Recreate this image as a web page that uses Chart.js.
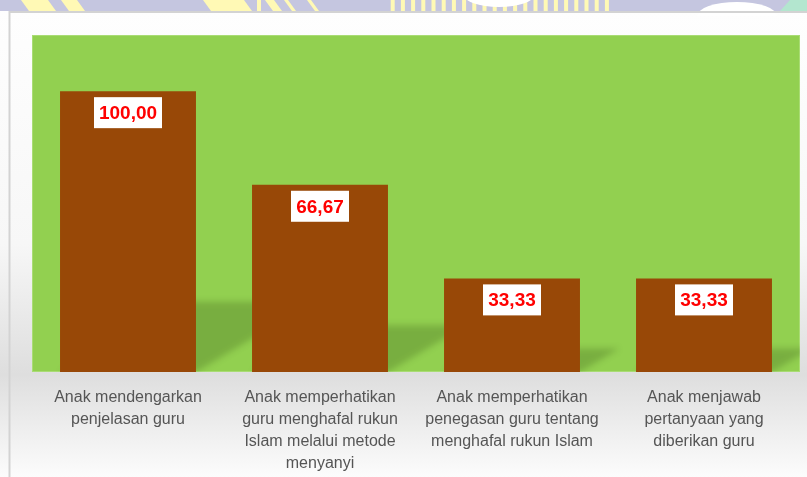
<!DOCTYPE html>
<html>
<head>
<meta charset="utf-8">
<script src="https://cdn.jsdelivr.net/npm/chart.js@4"></script>
<style>
  html, body { margin: 0; padding: 0; background: #fff; }
  #wrap { width: 807px; height: 477px; }
</style>
</head>
<body>
<div id="wrap"><canvas id="chart" width="807" height="477"></canvas></div>
<script>
"use strict";

var categories = [
    [ "Anak mendengarkan", "penjelasan guru" ],
    [ "Anak memperhatikan", "guru menghafal rukun", "Islam melalui metode", "menyanyi" ],
    [ "Anak memperhatikan", "penegasan guru tentang", "menghafal rukun Islam" ],
    [ "Anak menjawab", "pertanyaan yang", "diberikan guru" ]
];
var values = [ 100, 66.67, 33.33, 33.33 ];
var yMin = 0, yMax = 120;

var GREEN = "#92D050", BROWN = "#984807";

function fmt(v) {
    return v.toFixed(2).replace(".", ",");
}

// page background, watermark strip, frame and green plot area
var backdrop = {
    id: "backdrop",
    beforeDraw: function(c) {
        var ctx = c.ctx, a = c.chartArea, W = c.width, H = c.height;
        ctx.save();
        var g = ctx.createLinearGradient(0, 11, 0, H);
        g.addColorStop(0, "#fefefe");
        g.addColorStop(0.5, "#f7f7f7");
        g.addColorStop(0.78, "#dedede");
        g.addColorStop(1, "#fcfcfc");
        ctx.fillStyle = g;
        ctx.fillRect(0, 0, W, H);

        // decorative strip at the very top
        ctx.fillStyle = "#c5c6e0";
        ctx.fillRect(0, 0, W, 11);
        ctx.fillStyle = "#fff9b5";
        [ [ 21, 56 ], [ 61, 85 ], [ 203, 252 ], [ 265, 282 ], [ 288, 292 ], [ 307, 319 ] ].forEach(function(p) {
            ctx.beginPath();
            ctx.moveTo(p[0], 0); ctx.lineTo(p[1] - 8, 0); ctx.lineTo(p[1], 11); ctx.lineTo(p[0] + 8, 11);
            ctx.closePath(); ctx.fill();
        });
        ctx.fillRect(257, 0, 4, 11);
        for (var i = 0; i < 22; i++) {
            var sx = 397 + i * 9.6, tilt = (i - 10.5) * 0.6;
            ctx.fillRect(sx + tilt, 0, 4, 11);
        }
        ctx.fillStyle = "#ffffff";
        ctx.beginPath(); ctx.ellipse(499, -6, 36, 13, 0, 0, Math.PI); ctx.fill();
        ctx.beginPath(); ctx.ellipse(737, 16, 40, 14, 0, Math.PI, 2 * Math.PI); ctx.fill();
        ctx.fillStyle = "#b3e6cf";
        ctx.beginPath(); ctx.moveTo(780, 11); ctx.lineTo(790, 0); ctx.lineTo(807, 0); ctx.lineTo(807, 11); ctx.fill();

        // frame
        ctx.strokeStyle = "#d3d3d3";
        ctx.lineWidth = 2;
        ctx.beginPath();
        ctx.moveTo(9.5, H); ctx.lineTo(9.5, 12); ctx.lineTo(W, 12);
        ctx.stroke();

        // plot area
        ctx.fillStyle = GREEN;
        ctx.fillRect(a.left, a.top, a.right - a.left, a.bottom - a.top);
        ctx.strokeStyle = "#a9dc74";
        ctx.lineWidth = 1;
        ctx.strokeRect(a.left + 0.5, a.top + 0.5, a.right - a.left - 1, a.bottom - a.top - 1);
        ctx.restore();
    }
};

// slanted perspective shadows behind each bar
var shadows = {
    id: "shadows",
    beforeDatasetsDraw: function(c) {
        var ctx = c.ctx, a = c.chartArea;
        ctx.save();
        ctx.beginPath();
        ctx.rect(a.left, a.top, a.right - a.left, a.bottom - a.top);
        ctx.clip();
        ctx.filter = "blur(3px)";
        ctx.fillStyle = "rgba(20,40,0,0.2)";
        c.getDatasetMeta(0).data.forEach(function(b) {
            var p = b.getProps([ "x", "y", "base", "width" ], true);
            var L = p.x - p.width / 2, R = p.x + p.width / 2, h = p.base - p.y;
            var sh = h * 0.25, dx = h * 0.42;
            ctx.beginPath();
            ctx.moveTo(L, p.base);
            ctx.lineTo(R, p.base);
            ctx.lineTo(R + dx, p.base - sh);
            ctx.lineTo(L + dx, p.base - sh);
            ctx.closePath();
            ctx.fill();
        });
        ctx.restore();
    }
};

// white value boxes with red text near the top of each bar
var valueBoxes = {
    id: "valueBoxes",
    afterDatasetsDraw: function(c) {
        var ctx = c.ctx;
        ctx.save();
        ctx.font = "bold 19px 'Liberation Sans', Arial, sans-serif";
        ctx.textAlign = "center";
        ctx.textBaseline = "middle";
        c.getDatasetMeta(0).data.forEach(function(b, i) {
            var p = b.getProps([ "x", "y" ], true), t = fmt(values[i]);
            var w = ctx.measureText(t).width + 10, h = 31, top = p.y + 6;
            ctx.fillStyle = "#ffffff";
            ctx.fillRect(Math.round(p.x - w / 2), top, Math.round(w), h);
            ctx.fillStyle = "#ff0000";
            ctx.fillText(t, p.x, top + h / 2 + 1);
        });
        ctx.restore();
    }
};

new Chart(document.getElementById("chart"), {
    type: "bar",
    data: {
        labels: categories,
        datasets: [ {
            data: values,
            backgroundColor: BROWN,
            borderWidth: 0,
            categoryPercentage: 1,
            barPercentage: 0.708
        } ]
    },
    options: {
        responsive: false,
        animation: false,
        layout: { padding: { left: 32, right: 7, top: 35, bottom: 0 } },
        plugins: {
            legend: { display: false },
            tooltip: { enabled: false }
        },
        scales: {
            x: {
                grid: { display: false },
                border: { display: false },
                ticks: {
                    color: "#555555",
                    padding: 7,
                    maxRotation: 0,
                    autoSkip: false,
                    font: { family: "'Liberation Sans', Arial, sans-serif", size: 16, lineHeight: 1.36 }
                },
                afterFit: function(s) { s.height = 105; }
            },
            y: {
                display: false,
                min: yMin,
                max: yMax
            }
        }
    },
    plugins: [ backdrop, shadows, valueBoxes ]
});
</script>
</body>
</html>
